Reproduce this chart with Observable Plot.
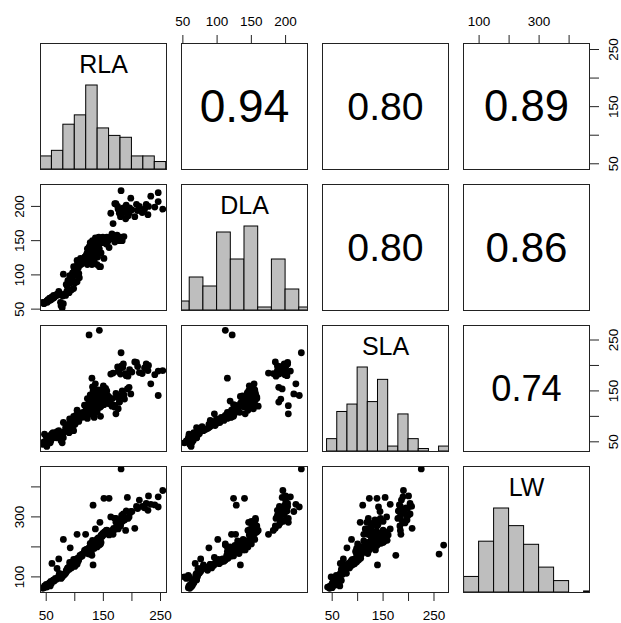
<!DOCTYPE html>
<html><head><meta charset="utf-8">
<script src="https://cdn.jsdelivr.net/npm/d3@7"></script>
<script src="https://cdn.jsdelivr.net/npm/@observablehq/plot@0.6"></script>
<style>
body{margin:0;background:#fff;}
#chart{position:relative;width:621px;height:623px;overflow:hidden;background:#fff;}
</style></head><body><div id="chart"></div>
<script>
const RLA = [181,254,246,246,233,229,198,213,192,163,167,189,172,175,178,182,185,190,195,200,205,180,187,178,222,228,170,225,240,208,
 44,51,50,53,56,58,60,63,66,69, 71,47,55,62,76,78,80,75,82,86, 90,94,98,84,80,92,89,92,95,97, 100,103,106,110,112,100,104,108,91,98,
 116,119,125,131,136,139,145,122,128,104, 119,132,125,130,135,140,145,150,154,133, 138,142,148,127,144,136,160,166,172,180,
 183,165,158,176,121,124,126,129,132,137, 141,146,149,152,134,138,113,117,143,155, 109,101,87,73,57,72,
 111,114,118,120,123,126,128,130,133,135, 137,139,141,144,147,150,153,156,129,134, 140,146,122,131,85,88,93,96,99,102,
 105,107,96,46,52,59,64,68,74,79, 162,168,174,178,186,170,184,196,210,218, 176,193,
 151,160,132,130,143,125];
const DLA = [223,196,220,207,215,200,212,200,195,190,175,182,204,200,192,188,198,202,190,195,185,185,193,190,196,188,204,203,199,203,
 60,62,61,64,66,65,68,70,69,72, 71,59,63,66,55,52,58,60,72,76, 74,78,80,70,101,88,88,93,97,101, 104,108,110,124,116,88,90,96,99,112,
 119,124,129,134,137,115,112,115,119,121, 127,134,141,145,150,148,152,147,153,143, 142,155,150,147,146,154,152,158,156,155,
 150,160,149,153,131,136,139,140,146,145, 151,149,155,151,133,130,121,126,138,145, 114,99,83,74,63,76,
 118,122,121,128,132,127,135,138,140,144, 149,152,143,150,153,150,148,155,125,120, 126,132,138,150,86,92,95,103,106,112,
 116,102,90,58,60,64,67,70,71,69, 155,152,158,150,156,148,192,198,194,191, 196,186,
 124,140,128,115,112,122];
const SLA = [225,190,141,189,164,200,144,186,154,183,185,184,105,197,193,199,203,180,157,187,207,183,134,128,195,190,121,203,182,206,
 45,41,60,55,62,52,66,58,64,70, 62,65,50,68,52,48,58,60,70,75, 68,80,72,78,88,79,78,85,82,90, 88,95,92,100,98,84,92,105,95,100,
 102,110,118,125,140,108,100,96,130,112, 120,139,105,112,120,145,150,160,155,138, 128,152,132,142,118,164,125,135,145,140,
 150,120,140,115,115,125,132,118,150,135, 142,125,146,138,108,112,105,122,130,128, 100,86,74,66,48,72,
 103,108,99,112,120,110,127,122,131,146, 152,148,126,137,143,129,135,150,104,98, 115,120,135,158,76,84,88,94,98,102,
 106,90,80,50,46,56,61,58,64,66, 130,122,138,128,142,118,196,192,198,184, 188,179,
 123,138,110,175,269,260];
const LW = [460,388,333,367,342,370,318,356,365,300,242,255,282,290,280,305,310,320,300,318,262,270,290,272,330,322,295,345,340,335,
 62,66,75,72,80,85,145,90,95,128, 100,70,78,88,95,100,105,98,108,118, 125,130,140,112,225,197,132,140,145,150, 155,160,152,170,175,135,142,165,148,158,
 180,190,195,205,215,200,210,185,200,242, 242,140,190,200,210,220,230,240,250,205, 215,225,235,212,282,260,240,250,295,275,
 285,255,245,260,185,195,198,205,215,210, 230,238,245,250,200,220,170,188,225,255, 172,150,128,112,70,160,
 168,176,182,192,178,188,202,196,208,212, 218,226,221,232,240,244,248,256,183,195, 205,215,190,222,122,130,138,144,150,156,
 162,158,142,64,70,78,86,92,102,108, 250,262,270,278,290,258,300,312,328,335, 285,295,
 362,362,339,172,206,176];

// ---- histogram bins ----
const breaksRLA = [40,60,80,100,120,140,160,180,200,220,240,260];
const countsRLA = [7,10,24,29,45,22,18,17,7,7,4];
const breaksDLA = [40,60,80,100,120,140,160,180,200,220,240];
const countsDLA = [3,11,8,26,17,28,1,17,7,1];
const breaksSLA = [40,60,80,100,120,140,160,180,200,220,240,260,280];
const countsSLA = [5,16,19,34,20,29,2,15,5,1,0,2];
const breaksLW = [50,100,150,200,250,300,350,400,450,500];
const countsLW = [15,49,81,64,46,24,11,0,1];

// ---- correlations (upper panels) ----
const corrRowVar = ["RLA","RLA","RLA","DLA","DLA","SLA"];
const corrColVar = ["DLA","SLA","LW","SLA","LW","LW"];
const corrValues = [0.94,0.80,0.89,0.80,0.86,0.74];

// ---- ticks ----
const ticksRLA = [50,100,150,200,250], labelsRLA = [50,150,250];
const ticksDLA = [50,100,150,200], labelsDLA = [50,100,150,200];
const ticksSLA = [50,100,150,200,250], labelsSLA = [50,150,250];
const ticksLW = [100,200,300,400], labelsLW = [100,300];

const varNames = ["RLA","DLA","SLA","LW"];
const rows = RLA.map((d,i)=>({RLA:d, DLA:DLA[i], SLA:SLA[i], LW:LW[i]}));
const hist = {RLA:[breaksRLA,countsRLA], DLA:[breaksDLA,countsDLA], SLA:[breaksSLA,countsSLA], LW:[breaksLW,countsLW]};
const ticks = {RLA:[ticksRLA,labelsRLA], DLA:[ticksDLA,labelsDLA], SLA:[ticksSLA,labelsSLA], LW:[ticksLW,labelsLW]};
const domains = {RLA:[40,260.5], DLA:[48,232], SLA:[31,278.5], LW:[48,468]};

const font = "'Liberation Sans', Arial, sans-serif";
const S = 126, STEP = 141, X0 = 40, Y0 = 43, TF = 13.5;
const chart = document.getElementById("chart");
const n = varNames.length;

varNames.forEach((yv, i) => varNames.forEach((xv, j) => {
  const marks = [];
  let yDomain = domains[yv];
  if (i === j) {
    yDomain = [0, 1.5];
    const [br, ct] = hist[xv];
    const mx = d3.max(ct);
    const bins = ct.map((c,k)=>({x1:br[k], x2:br[k+1], h:c/mx}));
    marks.push(Plot.rect(bins, {x1:"x1", x2:"x2", y1:0, y2:"h", fill:"#bebebe", stroke:"#000", strokeWidth:1, clip:true}));
    marks.push(Plot.text([xv], {text:d=>d, frameAnchor:"top", lineAnchor:"middle", textAnchor:"middle", dy:21.5, fontSize:25, fontFamily:font, fill:"#000"}));
  } else if (i < j) {
    const k = corrRowVar.findIndex((r,q)=>r===yv && corrColVar[q]===xv);
    const r = corrValues[k];
    marks.push(Plot.text([r.toFixed(2)], {text:d=>d, frameAnchor:"middle", lineAnchor:"middle", dy:1, fontSize:49*r, fontFamily:font, fill:"#000"}));
  } else {
    marks.push(Plot.dot(rows, {x:xv, y:yv, r:3.4, fill:"#000", stroke:"none", clip:true}));
  }
  marks.push(Plot.frame({stroke:"#222", strokeWidth:1}));
  // outer axes, alternating as in R pairs()
  if (i === 0 && j % 2 === 1) {
    const [tk, lb] = ticks[xv];
    marks.push(Plot.axisX({anchor:"top", ticks:tk, tickSize:9, tickFormat:()=>"", label:null, stroke:"#222"}));
    marks.push(Plot.text(lb, {x:d=>d, text:d=>String(d), frameAnchor:"top", lineAnchor:"middle", textAnchor:"middle", dy:-21.5, fontSize:TF, fontFamily:font, fill:"#000"}));
  }
  if (i === n-1 && j % 2 === 0) {
    const [tk, lb] = ticks[xv];
    marks.push(Plot.axisX({anchor:"bottom", ticks:tk, tickSize:9, tickFormat:()=>"", label:null, stroke:"#222"}));
    marks.push(Plot.text(lb, {x:d=>d, text:d=>String(d), frameAnchor:"bottom", lineAnchor:"middle", textAnchor:"middle", dy:23.5, fontSize:TF, fontFamily:font, fill:"#000"}));
  }
  if (j === 0 && i % 2 === 1) {
    const [tk, lb] = ticks[yv];
    marks.push(Plot.axisY({anchor:"left", ticks:tk, tickSize:9, tickFormat:()=>"", label:null, stroke:"#222"}));
    marks.push(Plot.text(lb, {y:d=>d, text:d=>String(d), frameAnchor:"left", lineAnchor:"middle", textAnchor:"middle", dx:-20.5, rotate:-90, fontSize:TF, fontFamily:font, fill:"#000"}));
  }
  if (j === n-1 && i % 2 === 0) {
    const [tk, lb] = ticks[yv];
    marks.push(Plot.axisY({anchor:"right", ticks:tk, tickSize:9, tickFormat:()=>"", label:null, stroke:"#222"}));
    marks.push(Plot.text(lb, {y:d=>d, text:d=>String(d), frameAnchor:"right", lineAnchor:"middle", textAnchor:"middle", dx:24.5, rotate:-90, fontSize:TF, fontFamily:font, fill:"#000", ariaLabel:"right-labels"}));
  }
  const svg = Plot.plot({
    width:S, height:S, margin:0,
    x:{domain:domains[xv], axis:null},
    y:{domain:yDomain, axis:null},
    marks
  });
  // the reference's right-side labels are drawn narrower along their reading direction
  d3.select(svg).selectAll('g[aria-label="right-labels"] text')
    .attr("transform", function(){ return (this.getAttribute("transform") || "") + " scale(0.74,1)"; });
  svg.style.position = "absolute";
  svg.style.left = (X0 + STEP*j) + "px";
  svg.style.top = (Y0 + STEP*i) + "px";
  svg.style.overflow = "visible";
  svg.style.background = "transparent";
  svg.style.maxWidth = "none";
  chart.appendChild(svg);
}));
</script></body></html>
